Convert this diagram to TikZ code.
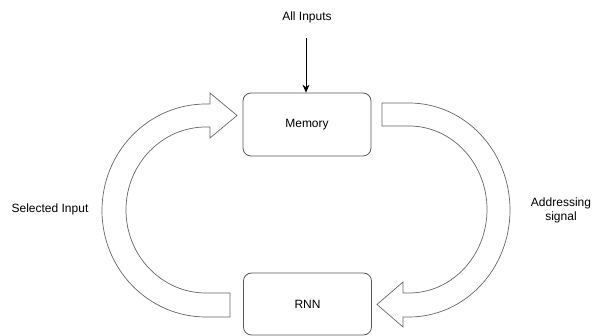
\documentclass[tikz,border=0pt]{standalone}
\usepackage{fontspec}
\setmainfont{Liberation Sans}
\usetikzlibrary{arrows.meta}
\begin{document}
\begin{tikzpicture}[x=1pt,y=-1pt,
  box/.style={draw=black!65,line width=0.8pt,rounded corners=8pt,minimum width=128pt,minimum height=63pt,inner sep=0pt,font=\fontsize{12}{14}\selectfont},
  lbl/.style={font=\fontsize{12}{14}\selectfont,align=center,inner sep=0pt},
  band/.style={draw=black!60,line width=0.7pt,fill=white,line join=miter},
  feed/.style={draw=black,line width=0.8pt,-{Stealth[length=8pt,width=7pt]}}]
\useasboundingbox (0,0) rectangle (595,336);
\node[box] (mem) at (307,124.5) {Memory};
\node[box,minimum height=62pt] (rnn) at (307.5,304) {RNN};
\node[lbl] (all) at (307,17) {All Inputs};
\coordinate (allstart) at (306,38);
\draw[feed] (allstart) -- (mem.north -| allstart);
\node[lbl] (sel) at (50,209) {Selected Input};
\node[lbl] (addr) at (561,210) {Addressing\\signal};
% left curved arrow (RNN -> Memory)
\draw[band] (230,317) -- (206,317)
  arc[start angle=270,end angle=90,x radius=104pt,y radius=106.5pt]
  -- (210,104) -- (210,93) -- (237,115.5) -- (210,138) -- (210,127) -- (206,127)
  arc[start angle=90,end angle=270,x radius=80pt,y radius=83pt]
  -- (230,293) -- cycle;
% right curved arrow (Memory -> RNN)
\draw[band] (382,103) -- (409,103)
  arc[start angle=90,end angle=-90,x radius=101pt,y radius=107pt]
  -- (403,317) -- (403,327) -- (377,304.5) -- (403,282) -- (403,293) -- (409,293)
  arc[start angle=-90,end angle=90,x radius=78pt,y radius=83.5pt]
  -- (382,126) -- cycle;
\end{tikzpicture}
\end{document}
